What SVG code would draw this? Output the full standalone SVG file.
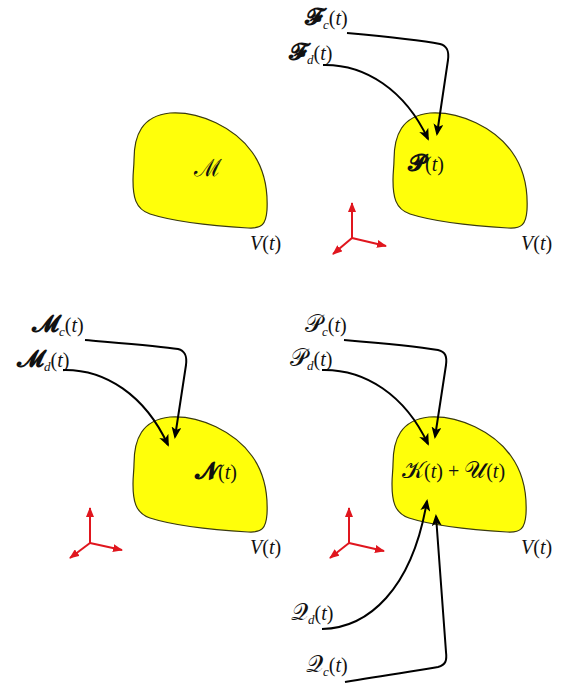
<svg xmlns="http://www.w3.org/2000/svg" xmlns:xlink="http://www.w3.org/1999/xlink" width="562" height="687" viewBox="0 0 562 687">
<style>
.blob{fill:#ffff0a;stroke:#3a3a10;stroke-width:1.2}
text{font-family:"Liberation Serif","DejaVu Serif",serif;font-size:20px;fill:#111}
.it{font-style:italic}
.cal{font-family:"DejaVu Serif","Noto Sans","Liberation Serif",serif;font-size:24px}
.sub{font-size:13px;font-style:italic}
.conn{fill:none;stroke:#000;stroke-width:2;marker-end:url(#ah)}
.ax{fill:none;stroke:#e0161e;stroke-width:2;marker-end:url(#rh)}
</style>
<defs>
<marker id="ah" viewBox="0 0 12 10" refX="10" refY="5" markerWidth="12" markerHeight="10" markerUnits="userSpaceOnUse" orient="auto">
<path d="M0,0 L12,5 L0,10 L3,5 Z" fill="#000"/>
</marker>
<marker id="rh" viewBox="0 0 10 8" refX="9" refY="4" markerWidth="10" markerHeight="8" markerUnits="userSpaceOnUse" orient="auto">
<path d="M0,0 L10,4 L0,8 Z" fill="#e0161e"/>
</marker>
<path id="shape" class="blob" d="M134,160 C134,135 142,116 170,113 C200,111 235,128 252,152 C265,170 268,190 267,210 C266,224 262,229 248,228 C215,226 175,222 150,214 C135,209 133,196 133,180 C133,172 134,166 134,160 Z"/>
</defs>

<g id="blob-M">
<use xlink:href="#shape"/>
<text x="194" y="176"><tspan class="cal">ℳ</tspan></text>
<text x="250" y="250"><tspan class="it">V</tspan>(<tspan class="it">t</tspan>)</text>
</g>

<g id="blob-P">
<use xlink:href="#shape" transform="translate(260,0)"/>
<text x="408" y="171"><tspan class="cal" font-weight="bold">𝓟</tspan>(<tspan class="it">t</tspan>)</text>
<text x="521" y="250"><tspan class="it">V</tspan>(<tspan class="it">t</tspan>)</text>
</g>

<g id="blob-N">
<use xlink:href="#shape" transform="translate(0,304)"/>
<text x="195" y="479"><tspan class="cal" font-weight="bold">𝓝</tspan>(<tspan class="it">t</tspan>)</text>
<text x="250" y="554"><tspan class="it">V</tspan>(<tspan class="it">t</tspan>)</text>
</g>

<g id="blob-KU">
<use xlink:href="#shape" transform="translate(259,304)"/>
<text x="402" y="478"><tspan class="cal">𝒦</tspan>(<tspan class="it">t</tspan>) + <tspan class="cal">𝒰</tspan>(<tspan class="it">t</tspan>)</text>
<text x="521" y="554"><tspan class="it">V</tspan>(<tspan class="it">t</tspan>)</text>
</g>

<g id="labels">
<text x="305" y="25"><tspan class="cal" font-weight="bold">𝓕</tspan><tspan class="sub" dy="4">c</tspan><tspan dy="-4">(</tspan><tspan class="it">t</tspan>)</text>
<text x="289" y="60"><tspan class="cal" font-weight="bold">𝓕</tspan><tspan class="sub" dy="4">d</tspan><tspan dy="-4">(</tspan><tspan class="it">t</tspan>)</text>
<text x="32" y="332"><tspan class="cal" font-weight="bold">𝓜</tspan><tspan class="sub" dy="4">c</tspan><tspan dy="-4">(</tspan><tspan class="it">t</tspan>)</text>
<text x="17" y="367"><tspan class="cal" font-weight="bold">𝓜</tspan><tspan class="sub" dy="4">d</tspan><tspan dy="-4">(</tspan><tspan class="it">t</tspan>)</text>
<text x="305" y="332"><tspan class="cal">𝒫</tspan><tspan class="sub" dy="4">c</tspan><tspan dy="-4">(</tspan><tspan class="it">t</tspan>)</text>
<text x="290" y="366"><tspan class="cal">𝒫</tspan><tspan class="sub" dy="4">d</tspan><tspan dy="-4">(</tspan><tspan class="it">t</tspan>)</text>
<text x="291" y="620"><tspan class="cal">𝒬</tspan><tspan class="sub" dy="4">d</tspan><tspan dy="-4">(</tspan><tspan class="it">t</tspan>)</text>
<text x="306" y="672"><tspan class="cal">𝒬</tspan><tspan class="sub" dy="4">c</tspan><tspan dy="-4">(</tspan><tspan class="it">t</tspan>)</text>
</g>

<g id="connectors">
<path class="conn" d="M347,33 C380,36 420,40 440,44 C448,46 449,52 448,60 L437,134"/>
<path class="conn" d="M323,65 C365,64 405,90 428,139"/>
<path class="conn" d="M85,340 C120,343 160,346 178,349 C186,351 187,357 186,365 L175,437"/>
<path class="conn" d="M63,370 C105,369 145,395 168,445"/>
<path class="conn" d="M344,340 C380,343 420,347 438,350 C446,352 447,357 446,365 L435,437"/>
<path class="conn" d="M322,370 C365,369 405,395 428,444"/>
<path class="conn" d="M322,629 C368,628 412,590 427,501"/>
<path class="conn" d="M345,682 C380,676 420,670 438,667 C446,665 447,660 446,652 L436,516"/>
</g>

<g id="axes-top">
<path class="ax" d="M352,238 L352,203"/>
<path class="ax" d="M352,238 L386,246"/>
<path class="ax" d="M352,238 L333,254"/>
</g>
<g id="axes-bl">
<path class="ax" d="M90,543 L90,508"/>
<path class="ax" d="M90,543 L122,550"/>
<path class="ax" d="M90,543 L70,558"/>
</g>
<g id="axes-br">
<path class="ax" d="M349,543 L349,508"/>
<path class="ax" d="M349,543 L384,551"/>
<path class="ax" d="M349,543 L330,558"/>
</g>
</svg>
